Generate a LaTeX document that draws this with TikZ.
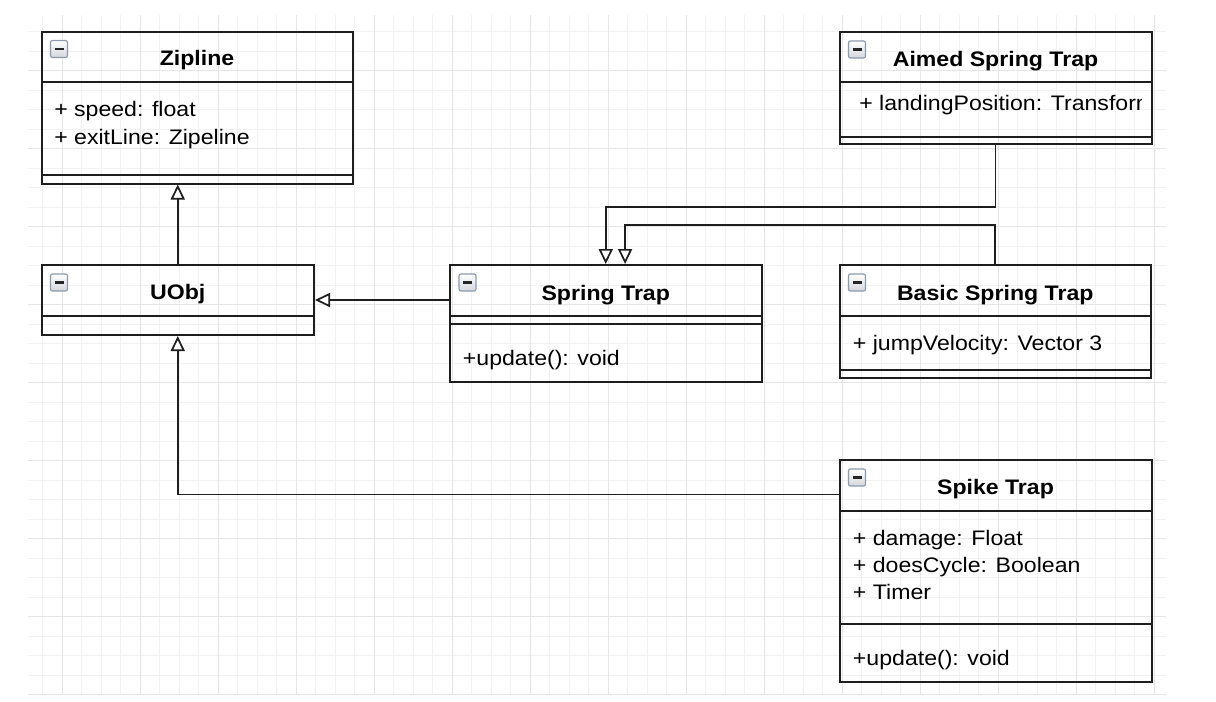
\documentclass[tikz,border=0pt]{standalone}
\usepackage{fontspec}
\setmainfont{Liberation Sans}[FakeStretch=1.1]
\usetikzlibrary{arrows.meta,fit,calc}
\definecolor{gridminor}{HTML}{F2F2F2}
\definecolor{gridmajor}{HTML}{E6E6E6}
\definecolor{iconborder}{HTML}{8C9AAE}
\definecolor{iconfill}{HTML}{D4D7DC}
\definecolor{lineclr}{HTML}{1E1E1E}
\newcommand{\umlfont}{\fontsize{15.75pt}{18pt}\selectfont}
\newcommand{\umlicon}[2]{%
  \draw[iconborder, line width=0.9pt, rounded corners=1.5pt, top color=white, bottom color=iconfill] (#1,#2) rectangle ++(17,17);
  \draw[black!85, line width=1.6pt] ($(#1,#2)+(4,8.5)$) -- ++(9,0);}
\begin{document}
\begin{tikzpicture}[x=0.75pt, y=-0.75pt,
  classbox/.style={draw=lineclr, line width=1.5pt, inner sep=0pt},
  sepline/.style={draw=lineclr, line width=1.5pt},
  titletext/.style={anchor=base, inner sep=0pt, font=\umlfont\bfseries},
  attrtext/.style={anchor=base west, inner sep=0pt, font=\umlfont},
  inh/.style={draw=lineclr, line width=1.3pt, -{Triangle[open, length=11.25pt, width=10.5pt, fill=white]}}]
\useasboundingbox[fill=white] (0,0) rectangle (1216,701);
% grid
\begin{scope}
  \clip (28,15) rectangle (1166,695);
  \foreach \i in {-2,...,57} \draw[gridminor, line width=0.75pt] ({62+19.5*\i},15) -- ({62+19.5*\i},695);
  \foreach \i in {-3,...,33} \draw[gridminor, line width=0.75pt] (28,{70.5+19.5*\i}) -- (1166,{70.5+19.5*\i});
  \foreach \i in {-1,...,14} \draw[gridmajor, line width=0.75pt] ({62+78*\i},15) -- ({62+78*\i},695);
  \foreach \i in {-1,...,8} \draw[gridmajor, line width=0.75pt] (28,{70.5+78*\i}) -- (1166,{70.5+78*\i});
\end{scope}

% Zipline
\node[classbox, fit={(41.5,31.5) (352.5,183.5)}] (zip) {};
\draw[sepline] (41.5,82) -- (352.5,82);
\draw[sepline] (41.5,175) -- (352.5,175);
\umlicon{50.5}{40.5}
\node[titletext] (ziptitle) at (197,65.7) {Zipline};
\node[attrtext] (zipa1) at (54,116.7) {+ speed: float};
\node[attrtext] (zipa2) at (54,144) {+ exitLine: Zipeline};

% Aimed Spring Trap
\node[classbox, fit={(839.5,32) (1151.5,144)}] (aimed) {};
\draw[sepline] (839.5,82) -- (1151.5,82);
\draw[sepline] (839.5,137) -- (1151.5,137);
\umlicon{848.5}{41}
\node[titletext] (aimedtitle) at (995.5,66) {Aimed Spring Trap};
\begin{scope}
  \clip (845,85) rectangle (1141,134);
  \node[attrtext] (aimeda1) at (859,110.7) {+ landingPosition: Transform};
\end{scope}

% UObj
\node[classbox, fit={(41.5,265) (314,335)}] (uobj) {};
\draw[sepline] (41.5,316) -- (314,316);
\umlicon{50.5}{274}
\node[titletext] (uobjtitle) at (177.75,299.3) {UObj};

% Spring Trap
\node[classbox, fit={(450,265) (761.5,381.5)}] (spring) {};
\draw[sepline] (450,316) -- (761.5,316);
\draw[sepline] (450,323.5) -- (761.5,323.5);
\umlicon{459}{274}
\node[titletext] (springtitle) at (605.75,300) {Spring Trap};
\node[attrtext] (springm1) at (462.7,365) {+update(): void};

% Basic Spring Trap
\node[classbox, fit={(839.5,265) (1151,377.5)}] (basic) {};
\draw[sepline] (839.5,316) -- (1151,316);
\draw[sepline] (839.5,370) -- (1151,370);
\umlicon{848.5}{274}
\node[titletext] (basictitle) at (995.25,300) {Basic Spring Trap};
\node[attrtext] (basica1) at (852.7,350) {+ jumpVelocity: Vector 3};

% Spike Trap
\node[classbox, fit={(839.5,460) (1151.5,681.5)}] (spike) {};
\draw[sepline] (839.5,511) -- (1151.5,511);
\draw[sepline] (839.5,623.5) -- (1151.5,623.5);
\umlicon{848.5}{469}
\node[titletext] (spiketitle) at (995.5,494.3) {Spike Trap};
\node[attrtext] (spikea1) at (852.7,545) {+ damage: Float};
\node[attrtext] (spikea2) at (852.7,572.7) {+ doesCycle: Boolean};
\node[attrtext] (spikea3) at (852.7,599) {+ Timer};
\node[attrtext] (spikem1) at (852.7,665) {+update(): void};

% connectors
\draw[inh] (uobj.north) -- (uobj.north |- zip.south);
\draw[inh] (spring.west |- uobj.east) -- (uobj.east);
\draw[inh] ([yshift=-26.6pt]spike.north west) -| (uobj.south);
\draw[inh] (aimed.south) -- ++(0,62) -| (spring.north);
\draw[inh] (basic.north) -- ++(0,-39) -| ([xshift=14.5pt]spring.north);
\end{tikzpicture}
\end{document}
